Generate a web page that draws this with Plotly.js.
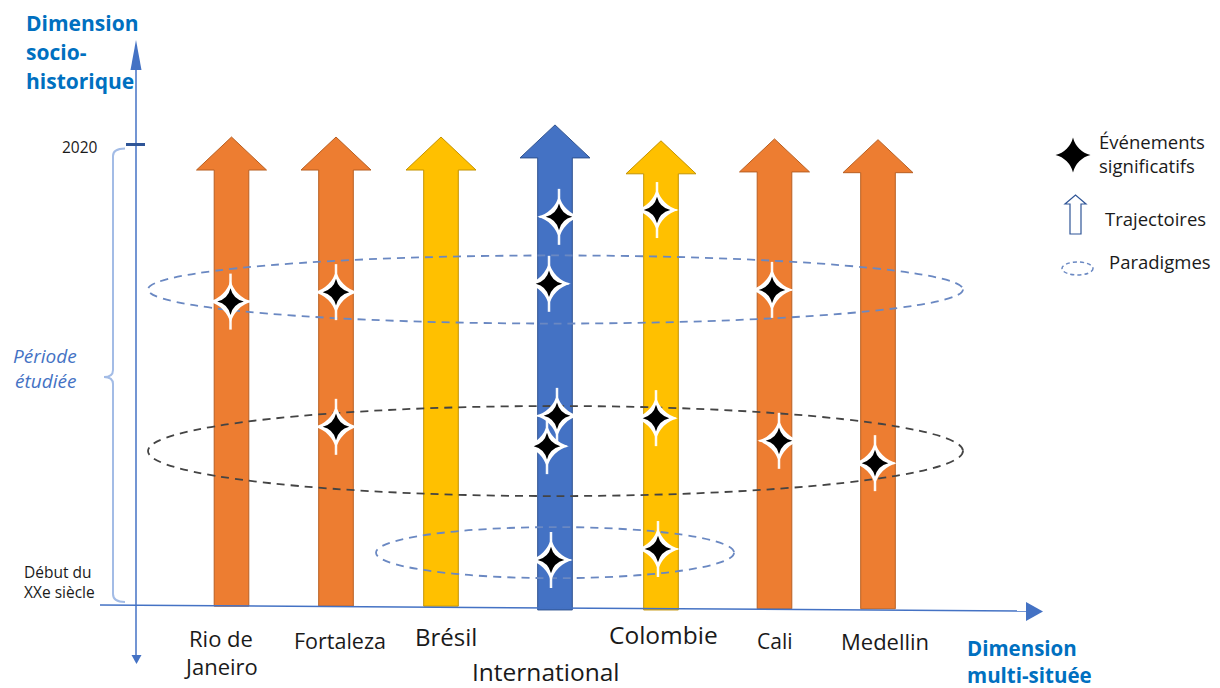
<!DOCTYPE html>
<html>
<head>
<meta charset="utf-8">
<script src="https://cdn.plot.ly/plotly-3.0.1.min.js"></script>
<style>
  html, body { margin: 0; padding: 0; background: #ffffff; }
  #chart { width: 1220px; height: 688px; }
</style>
</head>
<body>
<div id="chart"></div>
<script>
// ================= DATA =================
const categories = ['Rio de Janeiro', 'Fortaleza', 'Brésil', 'International', 'Colombie', 'Cali', 'Medellin'];
const categoryLabels = ['Rio de<br>Janeiro', 'Fortaleza', 'Brésil', 'International', 'Colombie', 'Cali', 'Medellin'];
const trajectoryLevel = ['ville', 'ville', 'pays', 'international', 'pays', 'ville', 'ville'];
const trajectoryStart = [1898.9, 1898.9, 1898.9, 1897.9, 1897.9, 1898.2, 1898.2];
const trajectoryEnd = [2022.9, 2022.9, 2022.9, 2026.1, 2021.9, 2022.4, 2022.2];

const eventCategory = ['Rio de Janeiro', 'Fortaleza', 'Fortaleza',
  'International', 'International', 'International', 'International', 'International',
  'Colombie', 'Colombie', 'Colombie', 'Cali', 'Cali', 'Medellin'];
const eventYear = [1979.4, 1981.9, 1946.3,
  2001.8, 1984.1, 1949.2, 1941.2, 1911.1,
  2003.6, 1948.6, 1914.0, 1982.5, 1942.6, 1936.7];

const paradigmNames = ['Paradigme récent', 'Paradigme intermédiaire', 'Paradigme initial'];
const paradigmStart = [1973.6, 1928.0, 1906.3];
const paradigmEnd = [1991.6, 1951.8, 1919.8];

const periodLabels = ['2020', 'Début du<br>XXe siècle'];
const legendLabels = ['Événements<br>significatifs', 'Trajectoires', 'Paradigmes'];
const axisTitles = ['Dimension<br>socio-<br>historique', 'Dimension<br>multi-située'];
const periodTitle = 'Période<br>étudiée';

// ================= LAYOUT / STYLE (positions in pixels) =================
const W = 1220, H = 688;
const pxPerYear = 454 / 120;                 // vertical scale
const yearAtPx = p => 1900 + (602 - p) / pxPerYear;
const xPos = [231.5, 336, 441, 555, 661, 774.5, 878];
const eventDx = [-1, 0, 0, 4, -6, 2, -8, -4, -4, -5, -3, -2.5, 4.5, -3];
const labelX = [221, 339.5, 446, 546, 663, 775, 885];
const labelBase = [645, 648, 644, 680, 643, 648, 648];
const labelSize = [22, 21.5, 24, 24.5, 24.5, 21, 22];
const labelGap = 28;
const paradigmX0 = [148, 148, 376];
const paradigmX1 = [963, 963, 734];
const paradigmColor = ['#6A88C2', '#444444', '#6A88C2'];

const levelFill = { ville: '#ED7D31', pays: '#FFC000', international: '#4472C4' };
const levelLine = { ville: '#B85F22', pays: '#C49300', international: '#2F528F' };

const shaftHalf = 17.3, headHalf = 35, headPx = 33;
const FONT = '"Open Sans", "Noto Sans", sans-serif';

const shapes = [];

// trajectories (arrows) in data coordinates
categories.forEach((c, i) => {
  const x = xPos[i];
  const b = trajectoryStart[i], t = trajectoryEnd[i];
  const s = t - headPx / pxPerYear;
  const path = `M${x - shaftHalf},${b} L${x - shaftHalf},${s} L${x - headHalf},${s} L${x},${t} ` +
               `L${x + headHalf},${s} L${x + shaftHalf},${s} L${x + shaftHalf},${b} Z`;
  shapes.push({
    type: 'path', xref: 'x', yref: 'y', path: path, layer: 'below',
    fillcolor: levelFill[trajectoryLevel[i]],
    line: { color: levelLine[trajectoryLevel[i]], width: 1 }
  });
});

// paradigms (dashed ellipses)
paradigmNames.forEach((p, i) => {
  shapes.push({
    type: 'circle', xref: 'x', yref: 'y', layer: 'below',
    x0: paradigmX0[i], x1: paradigmX1[i], y0: paradigmStart[i], y1: paradigmEnd[i],
    line: { color: paradigmColor[i], width: 1.8, dash: '8px,6px' }
  });
});

// axes (pixel coordinates on y2)
const axisColor = '#4472C4';
shapes.push({ type: 'line', xref: 'x', yref: 'y2', x0: 136, x1: 136, y0: 68, y1: 656, line: { color: axisColor, width: 1.5 } });
shapes.push({ type: 'path', xref: 'x', yref: 'y2', path: 'M130.5,70 L136,40 L141.5,70 Z', fillcolor: axisColor, line: { width: 0 } });
shapes.push({ type: 'path', xref: 'x', yref: 'y2', path: 'M131.5,655 L136.5,664 L141.5,655 Z', fillcolor: axisColor, line: { width: 0 } });
shapes.push({ type: 'line', xref: 'x', yref: 'y2', x0: 100, x1: 1028, y0: 605, y1: 611, line: { color: axisColor, width: 1.5 } });
shapes.push({ type: 'path', xref: 'x', yref: 'y2', path: 'M1026,602 L1043,611.5 L1026,621 Z', fillcolor: axisColor, line: { width: 0 } });
// 2020 tick
shapes.push({ type: 'line', xref: 'x', yref: 'y2', x0: 126, x1: 145, y0: 144.5, y1: 144.5, line: { color: '#2F5597', width: 3 } });
// bracket of studied period
shapes.push({
  type: 'path', xref: 'x', yref: 'y2',
  path: 'M125,148.5 Q113,148.5 113,156 L113,370 Q113,377 104,377 Q113,377 113,384 L113,594 Q113,602 125,602',
  line: { color: '#A3BCE6', width: 2 }
});

// legend glyphs
shapes.push({
  type: 'path', xref: 'x', yref: 'y2',
  path: 'M1070,234 L1070,204 L1065,204 L1075.5,195 L1086,204 L1081,204 L1081,234 Z',
  fillcolor: '#ffffff', line: { color: '#2F5597', width: 1.2 }
});
shapes.push({
  type: 'circle', xref: 'x', yref: 'y2', x0: 1062, x1: 1093, y0: 262, y1: 275,
  line: { color: '#6A88C2', width: 1.5, dash: '4px,3px' }
});

// ================= TEXT =================
const ann = [];
// places each line of a text separately: baseline of first line, line gap
function txt(text, x, base, size, gap, opts, fontOpts) {
  text.split('<br>').forEach((line, k) => {
    ann.push(Object.assign({
      text: line, x: x, y: base + k * gap - 0.33 * size, xref: 'x', yref: 'y2', showarrow: false,
      xanchor: 'center', yanchor: 'middle',
      font: Object.assign({ family: FONT, size: size, color: '#1a1a1a' }, fontOpts || {})
    }, opts || {}));
  });
}
categoryLabels.forEach((l, i) => txt(l, labelX[i], labelBase[i], labelSize[i], labelGap));

const titleFont = { color: '#0070C0', weight: 'bold' };
txt(axisTitles[0], 24, 30, 21, 29, { xanchor: 'left' }, titleFont);
txt(axisTitles[1], 965, 655, 20.5, 26.5, { xanchor: 'left' }, titleFont);
txt(periodTitle, 45, 362, 19, 25, {}, { color: '#4472C4', style: 'italic' });
txt(periodLabels[0], 100, 152.5, 15.5, 20, { xanchor: 'right' });
// two-line tick label as one block (native line spacing)
ann.push({
  text: periodLabels[1], x: 22, y: 582, xref: 'x', yref: 'y2', showarrow: false,
  xanchor: 'left', yanchor: 'middle', align: 'left',
  font: { family: FONT, size: 15.5, color: '#1a1a1a' }
});

txt(legendLabels[0], 1097, 148, 18.5, 24, { xanchor: 'left' });
txt(legendLabels[1], 1103, 225, 18.5, 24, { xanchor: 'left' });
txt(legendLabels[2], 1107, 268, 18.5, 24, { xanchor: 'left' });

// ================= TRACES =================
const catIndex = c => categories.indexOf(c);
const ex = eventCategory.map((c, k) => xPos[catIndex(c)] + eventDx[k]);

const traces = [
  { // white glow, vertical spike
    x: ex, y: eventYear, type: 'scatter', mode: 'markers', hoverinfo: 'skip',
    marker: { symbol: 'line-ns', size: 40, color: '#ffffff', line: { width: 2.5, color: 'rgba(255,255,255,0.95)' } }
  },
  { // white glow, horizontal spike
    x: ex, y: eventYear, type: 'scatter', mode: 'markers', hoverinfo: 'skip',
    marker: { symbol: 'line-ew', size: 28, color: '#ffffff', line: { width: 2, color: 'rgba(255,255,255,0.95)' } }
  },
  { // white glow
    x: ex, y: eventYear, type: 'scatter', mode: 'markers', hoverinfo: 'skip',
    marker: { symbol: 'star-diamond', size: 31, color: '#ffffff', line: { width: 0 } }
  },
  { // event star
    x: ex, y: eventYear, type: 'scatter', mode: 'markers', name: 'Événements significatifs',
    text: eventCategory,
    marker: { symbol: 'star-diamond', size: 19, color: '#000000', line: { width: 0 } }
  },
  { // legend star
    x: [1073], y: [155], yaxis: 'y2', type: 'scatter', mode: 'markers', hoverinfo: 'skip',
    marker: { symbol: 'star-diamond', size: 25, color: '#000000', line: { width: 0 } }
  }
];

const layout = {
  width: W, height: H, autosize: false,
  margin: { l: 0, r: 0, t: 0, b: 0, pad: 0 },
  paper_bgcolor: '#ffffff', plot_bgcolor: '#ffffff',
  showlegend: false,
  xaxis: { range: [0, W], visible: false, fixedrange: true },
  yaxis: { range: [yearAtPx(H), yearAtPx(0)], visible: false, fixedrange: true },
  yaxis2: { range: [H, 0], overlaying: 'y', visible: false, fixedrange: true },
  shapes: shapes,
  annotations: ann
};

Plotly.newPlot('chart', traces, layout, { displayModeBar: false, staticPlot: true });
</script>
</body>
</html>
